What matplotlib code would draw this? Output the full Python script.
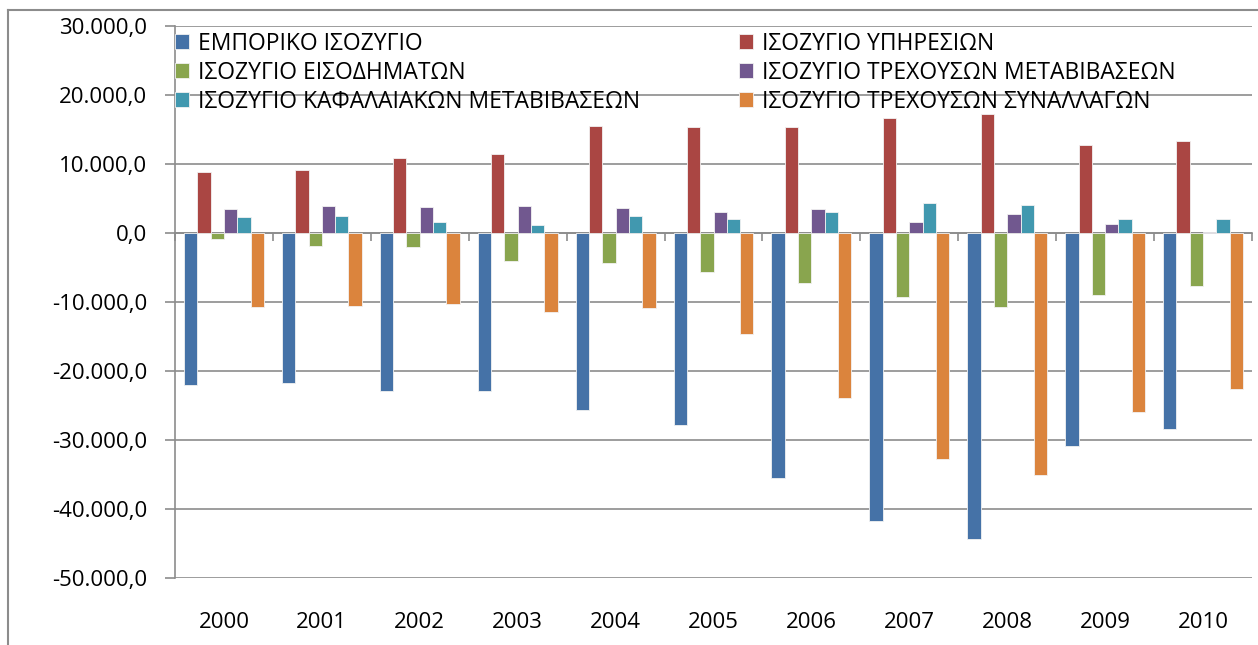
import numpy as np
import matplotlib.pyplot as plt
from matplotlib.lines import Line2D
from matplotlib.ticker import FuncFormatter
import matplotlib.transforms as mtransforms

plt.rcParams['font.family'] = ['Open Sans', 'DejaVu Sans']

# data (εκατ. ευρώ)
years = ['2000', '2001', '2002', '2003', '2004', '2005', '2006', '2007', '2008', '2009', '2010']
emporiko = [-22100, -21700, -22900, -22900, -25700, -27800, -35500, -41700, -44300, -30900, -28400]
ypiresion = [8800, 9200, 10800, 11500, 15500, 15400, 15400, 16600, 17200, 12700, 13300]
eisodimaton = [-900, -1900, -2000, -4000, -4300, -5600, -7200, -9300, -10700, -9000, -7700]
trex_metav = [3500, 3900, 3800, 3900, 3600, 3000, 3500, 1600, 2800, 1300, 200]
kef_metav = [2300, 2500, 1600, 1200, 2400, 2100, 3100, 4400, 4100, 2100, 2100]
trex_synal = [-10700, -10600, -10300, -11400, -10800, -14700, -23900, -32800, -35000, -26000, -22600]

series_names = ['ΕΜΠΟΡΙΚΟ ΙΣΟΖΥΓΙΟ', 'ΙΣΟΖΥΓΙΟ ΥΠΗΡΕΣΙΩΝ', 'ΙΣΟΖΥΓΙΟ ΕΙΣΟΔΗΜΑΤΩΝ',
                'ΙΣΟΖΥΓΙΟ ΤΡΕΧΟΥΣΩΝ ΜΕΤΑΒΙΒΑΣΕΩΝ', 'ΙΣΟΖΥΓΙΟ ΚΑΦΑΛΑΙΑΚΩΝ ΜΕΤΑΒΙΒΑΣΕΩΝ',
                'ΙΣΟΖΥΓΙΟ ΤΡΕΧΟΥΣΩΝ ΣΥΝΑΛΛΑΓΩΝ']
series_vals = [emporiko, ypiresion, eisodimaton, trex_metav, kef_metav, trex_synal]
colors = ['#4572A7', '#AA4643', '#89A54E', '#71588F', '#4198AF', '#DB843D']

fig = plt.figure(figsize=(12.58, 6.45), dpi=100)
ax = fig.add_axes([175/1258, 1 - 578/645, (1252-175)/1258, (578-26)/645])

x = np.arange(len(years))
w = 0.136
handles = []
for i, (vals, c) in enumerate(zip(series_vals, colors)):
    b = ax.bar(x + (i - 2.5) * w, vals, w, color=c, edgecolor='#f2f2f2',
               linewidth=0.6, zorder=3)
    handles.append(b)

ax.set_xlim(-0.5, len(years) - 0.5)
ax.set_ylim(-50000, 30000)
ax.set_yticks(np.arange(-50000, 30001, 10000))
ax.yaxis.set_major_formatter(FuncFormatter(
    lambda v, p: f'{v:,.1f}'.replace(',', 'X').replace('.', ',').replace('X', '.')))
ax.grid(axis='y', color='#8c8c8c', linewidth=1.2, zorder=1)
ax.tick_params(axis='y', length=7, width=1.2, color='#8c8c8c', pad=13,
               labelsize=16)

# category axis on the zero line, labels at the bottom
ax.spines['bottom'].set_position(('data', 0))
ax.spines['bottom'].set_color('#8c8c8c')
ax.spines['bottom'].set_linewidth(1.2)
ax.set_xticks(np.arange(len(years) + 1) - 0.5)
ax.set_xticklabels([])
ax.tick_params(axis='x', length=6, width=1.2, color='#8c8c8c', direction='out')
trans = mtransforms.blended_transform_factory(ax.transData, ax.transAxes)
for xi, yr in zip(x, years):
    ax.text(xi, -0.08, yr, transform=trans, ha='center', va='center', fontsize=16)

ax.spines['left'].set_color('#8c8c8c')
ax.spines['left'].set_linewidth(1.2)
ax.spines['top'].set_visible(False)
ax.spines['right'].set_visible(False)

# legend: two columns filled by rows, as in the original
leg_kw = dict(frameon=False, fontsize=16.5, handlelength=0.6, handleheight=0.6,
              handletextpad=0.4, labelspacing=0.22, borderaxespad=0, borderpad=0)
leg1 = ax.legend([handles[0], handles[2], handles[4]],
                 [series_names[0], series_names[2], series_names[4]],
                 loc='upper left', bbox_to_anchor=(0.0, 0.99), **leg_kw)
ax.add_artist(leg1)
leg2 = ax.legend([handles[1], handles[3], handles[5]],
                 [series_names[1], series_names[3], series_names[5]],
                 loc='upper left', bbox_to_anchor=(0.524, 0.99), **leg_kw)
leg1.set_zorder(5)
leg2.set_zorder(5)

# outer chart frame (cropped)
fig.add_artist(Line2D([8/1258, 8/1258], [0, 1 - 10/645], transform=fig.transFigure,
                      color='#8c8c8c', linewidth=1.5))
fig.add_artist(Line2D([8/1258, 1], [1 - 10/645, 1 - 10/645], transform=fig.transFigure,
                      color='#8c8c8c', linewidth=1.5))

fig.savefig('out.png', dpi=100)
